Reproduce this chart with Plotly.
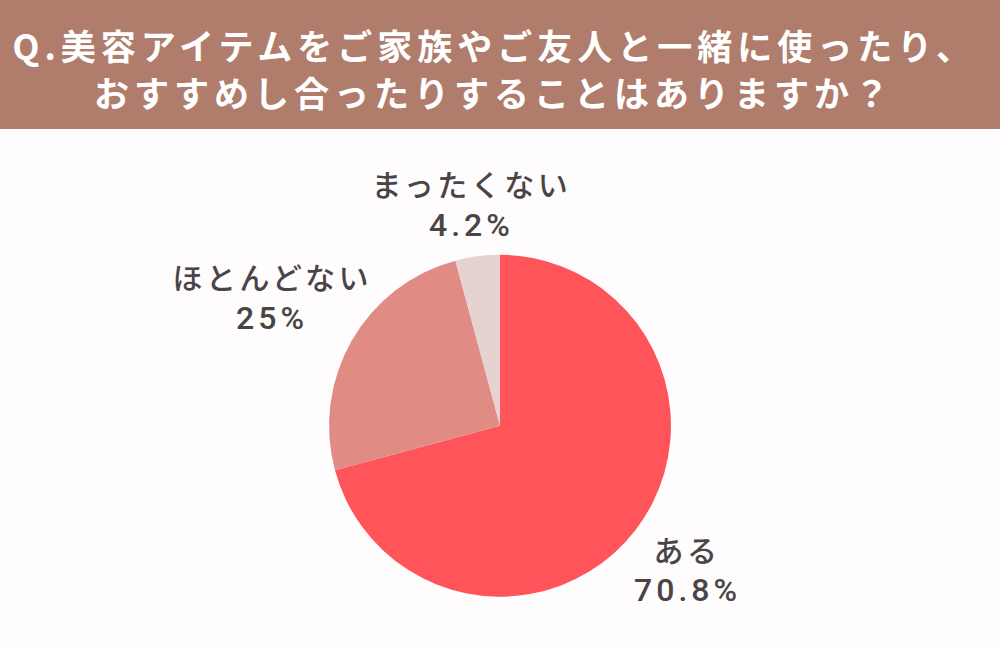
import plotly.graph_objects as go

title_lines = ["Q.美容アイテムをご家族やご友人と一緒に使ったり、",
               "おすすめし合ったりすることはありますか？"]
categories = ["ある", "ほとんどない", "まったくない"]
values = [70.8, 25, 4.2]
value_labels = ["70.8%", "25%", "4.2%"]
colors = ["#FE545A", "#E08B83", "#E6D2D1"]

# label positions in pixels (x center, category line center, percent line center)
label_pos = {
    "ある": (687, 549, 590),
    "ほとんどない": (272, 276, 318),
    "まったくない": (471, 183, 225),
}

W, H = 1000, 650
fig = go.Figure()
fig.add_trace(go.Pie(
    labels=categories, values=values, sort=False, direction="clockwise",
    rotation=0, textinfo="none", hoverinfo="label+percent",
    marker=dict(colors=colors, line=dict(width=0)),
    domain=dict(x=[0.329, 0.671], y=[0.082, 0.608]),
    showlegend=False,
))

annotations = []
font_lbl = dict(family="Noto Sans CJK JP", size=30, color="#4A4446", weight=500)
font_pct = dict(family="Roboto, Liberation Sans", size=32, color="#4A4446", weight=500)
for cat, vl in zip(categories, value_labels):
    x, y1, y2 = label_pos[cat]
    annotations.append(dict(text=cat, x=x / W, y=1 - y1 / H, xref="paper", yref="paper",
                            showarrow=False, xanchor="center", yanchor="middle", font=font_lbl))
    annotations.append(dict(text=vl, x=x / W, y=1 - y2 / H, xref="paper", yref="paper",
                            showarrow=False, xanchor="center", yanchor="middle", font=font_pct))

font_title = dict(family="Noto Sans CJK JP", size=35, color="#FFFFFF", weight="bold")
for ln, yc in zip(title_lines, [45, 92]):
    annotations.append(dict(text=ln, x=0.494, y=1 - yc / H, xref="paper", yref="paper",
                            showarrow=False, xanchor="center", yanchor="middle", font=font_title))

fig.update_layout(
    width=W, height=H,
    margin=dict(l=0, r=0, t=0, b=0),
    paper_bgcolor="#FEFCFC",
    plot_bgcolor="#FEFCFC",
    shapes=[dict(type="rect", xref="paper", yref="paper", x0=0, x1=1,
                 y0=1 - 129 / H, y1=1, fillcolor="#B07C6B", line=dict(width=0), layer="below")],
    annotations=annotations,
)

post = """
document.body.style.margin='0';
document.querySelectorAll('.annotation-text').forEach(function(t){
  var fs = parseFloat(t.style.fontSize) || 0;
  var ls = fs > 34 ? 5 : (fs > 31 ? 4 : 3.5);
  t.style.letterSpacing = ls + 'px';
});
"""
fig.write_html("out.html", post_script=post, config={"displayModeBar": False})
